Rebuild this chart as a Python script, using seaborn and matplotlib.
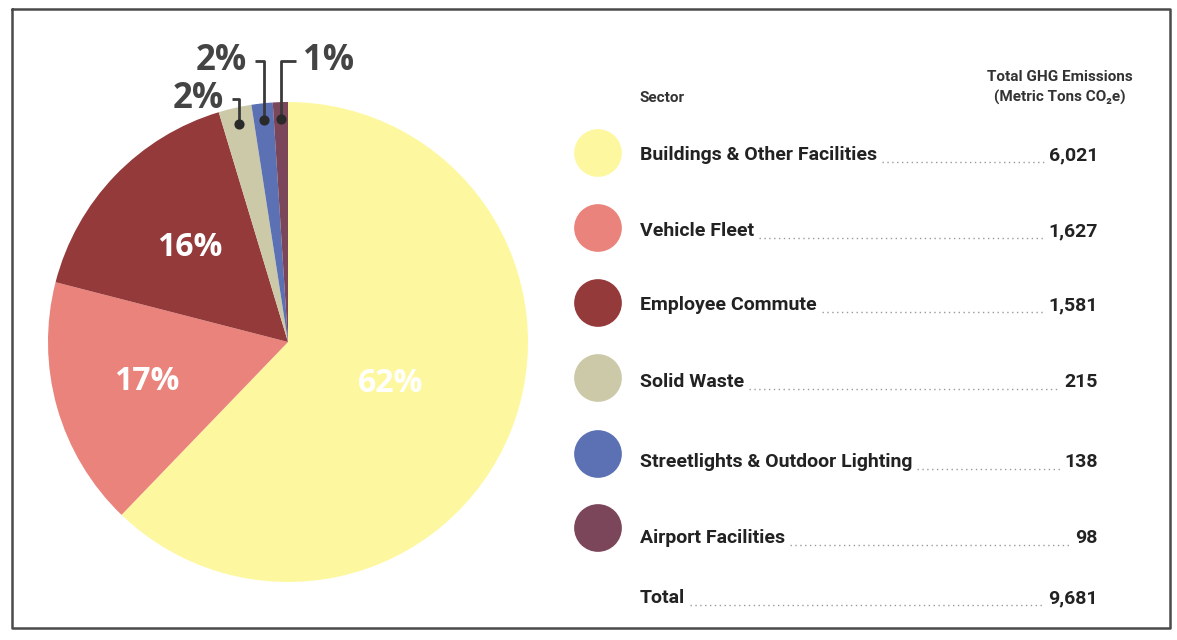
import numpy as np
import pandas as pd
import matplotlib
matplotlib.use("Agg")
import matplotlib.pyplot as plt
import seaborn as sns

# data
sectors = ["Buildings & Other Facilities", "Vehicle Fleet", "Employee Commute",
           "Solid Waste", "Streetlights & Outdoor Lighting", "Airport Facilities"]
emissions = [6021, 1627, 1581, 215, 138, 98]
value_labels = ["6,021", "1,627", "1,581", "215", "138", "98"]
pct_labels = ["62%", "17%", "16%", "2%", "2%", "1%"]
total_label = "9,681"
colors = ["#FDF8A0", "#E9837B", "#953A3B", "#CBC9A8", "#5B71B3", "#7B4659"]

sns.set_theme(style="white")
FONT = ["Roboto", "DejaVu Sans"]
plt.rcParams["font.family"] = FONT

W, H = 1177, 640
fig = plt.figure(figsize=(W / 100, H / 100), dpi=100)
ax = fig.add_axes([0, 0, 1, 1])


def Y(y):
    # pixel row -> data y
    return H - y


# pie
cx, cy, R = 288, Y(342), 240
wedges, _ = ax.pie(emissions, colors=colors, startangle=90, counterclock=False,
                   center=(cx, cy), radius=R, wedgeprops=dict(linewidth=0))

# percentage labels inside the big slices
inner_r = [0.46, 0.61, 0.57]
for w, lab, fr in zip(wedges[:3], pct_labels[:3], inner_r):
    a = np.deg2rad((w.theta1 + w.theta2) / 2)
    ax.text(cx + fr * R * np.cos(a), cy + fr * R * np.sin(a), lab,
            color="white", fontsize=23, fontweight="bold", family="Open Sans",
            ha="center", va="center")

# small slices: dot + bracket callouts
callouts = [  # (label y, elbow x, text side)
    (Y(99), 232, "left"),
    (Y(61), 255, "left"),
    (Y(61), 296, "right"),
]
for w, lab, (ly, ex, side) in zip(wedges[3:], pct_labels[3:], callouts):
    a = np.deg2rad((w.theta1 + w.theta2) / 2)
    px, py = cx + 0.93 * R * np.cos(a), cy + 0.93 * R * np.sin(a)
    ax.plot([px, px, ex], [py, ly, ly], color="#3a3a3a", lw=2, solid_capstyle="butt")
    ax.scatter([px], [py], s=40, color="#2a2a2a", zorder=5)
    if side == "left":
        ax.text(ex - 8, ly, lab, ha="right", va="center", fontsize=25,
                fontweight="bold", color="#444444", family="Open Sans")
    else:
        ax.text(ex + 7, ly, lab, ha="left", va="center", fontsize=25,
                fontweight="bold", color="#444444", family="Open Sans")

# legend table
row_y = [Y(155), Y(231), Y(305), Y(382), Y(462), Y(538)]
dot_y = [Y(153), Y(228), Y(303), Y(378), Y(454), Y(528)]
legend_df = pd.DataFrame({"x": [598] * len(sectors), "y": dot_y, "sector": sectors})
sns.scatterplot(data=legend_df, x="x", y="y", hue="sector",
                palette=dict(zip(sectors, colors)), s=1180, linewidth=0,
                legend=False, ax=ax)

label_x, num_x = 640, 1098
ax.text(label_x, Y(98), "Sector", fontsize=11, fontweight="bold", color="#333333",
        va="center")
ax.text(1060, Y(77), "Total GHG Emissions", fontsize=11, fontweight="bold",
        color="#333333", ha="center", va="center")
ax.text(1060, Y(97), "(Metric Tons CO\u2082e)", fontsize=11, fontweight="bold",
        color="#333333", ha="center", va="center")

name_texts, num_texts = [], []
for name, val, y in zip(sectors + ["Total"], value_labels + [total_label],
                        row_y + [Y(598)]):
    name_texts.append(ax.text(label_x, y, name, fontsize=14, fontweight="bold",
                              color="#222222", va="center"))
    num_texts.append(ax.text(num_x, y, val, fontsize=14, fontweight="bold",
                             color="#222222", va="center", ha="right"))

# border
ax.plot([12, 1170, 1170, 12, 12], [Y(9), Y(9), Y(628), Y(628), Y(9)],
        color="#4a4a4a", lw=1.8)

ax.set_xlim(0, W)
ax.set_ylim(0, H)
ax.set_aspect("equal")
ax.set_axis_off()

# dotted leaders between names and values
fig.canvas.draw()
inv = ax.transData.inverted()
for tn, tv in zip(name_texts, num_texts):
    x0 = inv.transform(tn.get_window_extent().p1)[0] + 5
    x1 = inv.transform(tv.get_window_extent().p0)[0] - 5
    y = tn.get_position()[1] - 7
    ax.plot([x0, x1], [y, y], color="#9a9a9a", lw=1, linestyle=(0, (1, 2.5)))

fig.savefig("out.png", dpi=100, facecolor="white")
